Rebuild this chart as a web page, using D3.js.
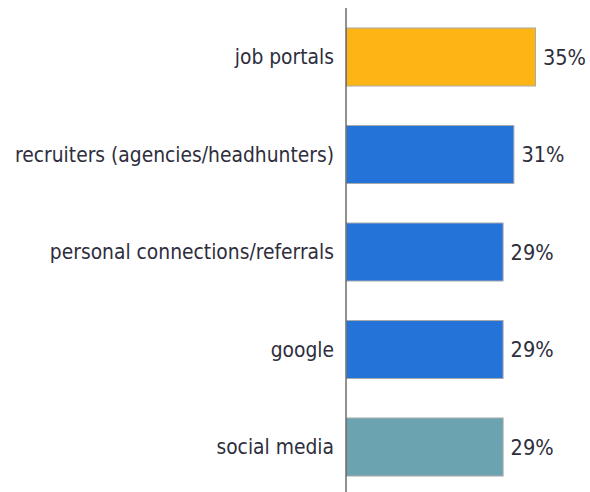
<!DOCTYPE html>
<html><head><meta charset="utf-8">
<script src="https://cdn.jsdelivr.net/npm/d3@7"></script>
<style>body{margin:0;background:#fff}</style>
</head><body>
<svg id="c" width="590" height="492"></svg>
<script>
const categories = ["job portals","recruiters (agencies/headhunters)","personal connections/referrals","google","social media"];
const values = [35,31,29,29,29];
const colors = ["#FDB515","#2473D9","#2473D9","#2473D9","#6BA3B0"];

const svg = d3.select("#c");
const x0 = 346;
const x = d3.scaleLinear().domain([0,35]).range([x0, 535]);
const y = d3.scaleBand().domain(categories).range([12,492]).paddingInner(0.405).paddingOuter(0.164);
const font = "'DejaVu Sans Condensed', 'DejaVu Sans', Verdana, sans-serif";

svg.selectAll("rect.bar").data(categories).join("rect")
  .attr("x", x(0)+0.5).attr("y", d=>y(d))
  .attr("width", (d,i)=>x(values[i])-x(0)).attr("height", y.bandwidth())
  .attr("fill", (d,i)=>colors[i]).attr("stroke","#aaaaaa").attr("stroke-width",1);

svg.append("line").attr("x1",x0).attr("x2",x0).attr("y1",8).attr("y2",492)
  .attr("stroke","#555").attr("stroke-width",1.3);

svg.selectAll("text.cat").data(categories).join("text")
  .attr("x", 334).attr("y", d=>y(d)+y.bandwidth()/2).attr("dy","0.36em")
  .attr("text-anchor","end").attr("font-family",font).attr("font-stretch","condensed").attr("font-size",20.8)
  .attr("fill","#2e2e3c").text(d=>d);

svg.selectAll("text.val").data(categories).join("text")
  .attr("x", (d,i)=>x(values[i])+8).attr("y", d=>y(d)+y.bandwidth()/2).attr("dy","0.36em")
  .attr("font-family",font).attr("font-stretch","condensed").attr("font-size",21.5)
  .attr("fill","#2e2e3c").text((d,i)=>values[i]+"%");
</script>
</body></html>
